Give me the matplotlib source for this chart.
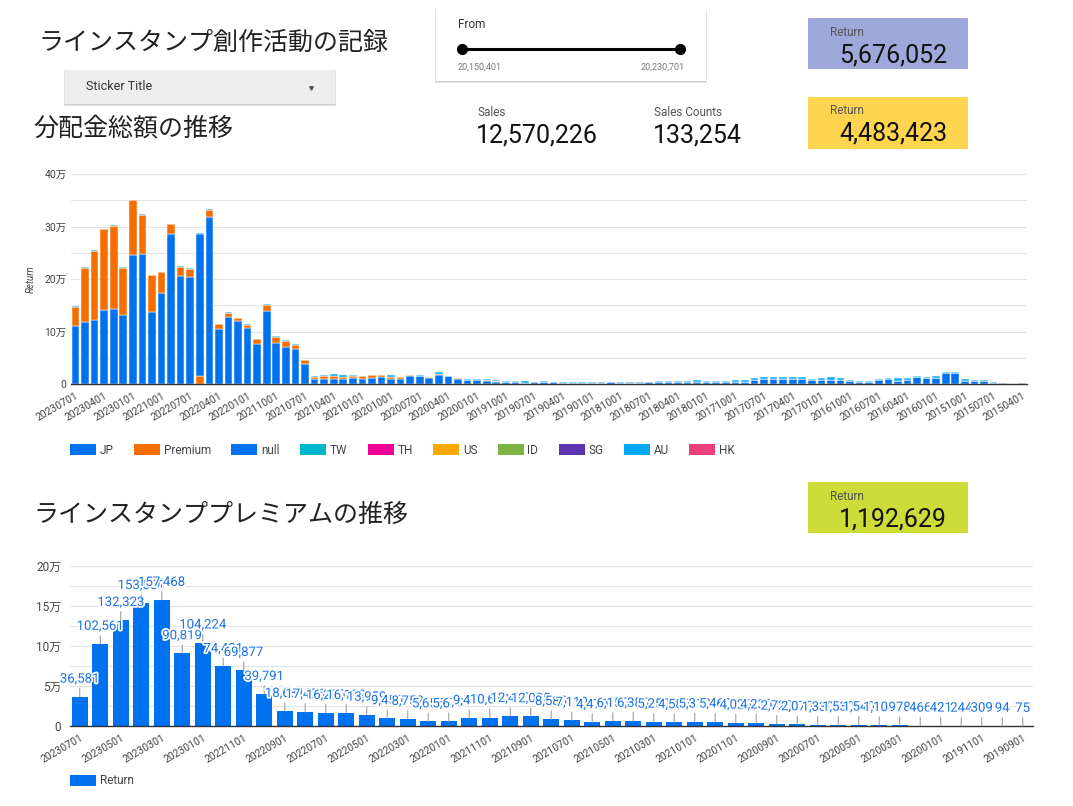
import matplotlib
matplotlib.use("Agg")
import matplotlib.pyplot as plt
import matplotlib.patheffects as pe
from matplotlib.patches import Rectangle, Patch
from matplotlib.lines import Line2D

plt.rcParams['font.family'] = ['Roboto', 'Noto Sans CJK JP', 'DejaVu Sans']

W, H = 1073, 806

# ---------------- data ----------------
# top chart: monthly return by country, in 万 (10,000 yen), newest month first (20230701 ... 20150401)
jp = [11.1, 11.9, 12.1, 14.1, 14.3, 13.1, 24.6, 24.7, 13.7, 17.3,
      28.6, 20.6, 20.3, 0.0, 31.8, 10.4, 12.7, 12.0, 10.7, 7.6,
      14.0, 7.8, 7.0, 6.6, 3.8, 0.9, 0.9, 0.9, 0.9, 1.1,
      0.9, 1.1, 1.3, 1.0, 1.0, 1.45, 1.45, 1.1, 1.75, 1.45,
      1.0, 0.8, 0.8, 0.65, 0.45, 0.45, 0.4, 0.25, 0.3, 0.45,
      0.3, 0.25, 0.25, 0.25, 0.2, 0.2, 0.3, 0.25, 0.25, 0.25,
      0.3, 0.4, 0.4, 0.45, 0.4, 0.45, 0.45, 0.45, 0.45, 0.45,
      0.45, 0.8, 1.0, 1.0, 1.0, 0.9, 0.9, 0.8, 0.8, 0.8,
      0.8, 0.6, 0.45, 0.45, 0.8, 0.9, 0.5, 0.7, 1.25, 1.05,
      1.1, 2.1, 2.1, 0.65, 0.5, 0.5, 0.15, 0.1, 0.03, 0.1]

null_vals = [0.0] * 13 + [27.0] + [0.0] * 86

# small remaining countries on top of each bar
au = [0.1, 0.1, 0.1, 0.05, 0.25, 0.1, 0.05, 0.15, 0.1, 0.1,
      0.1, 0.1, 0.1, 0.1, 0.1, 0.1, 0.1, 0.1, 0.1, 0.1,
      0.15, 0.15, 0.1, 0.1, 0.1, 0.15, 0.2, 0.3, 0.2, 0.25,
      0.15, 0.15, 0.05, 0.3, 0.15, 0.1, 0.05, 0.15, 0.3, 0.05,
      0.1, 0.15, 0.15, 0.2, 0.2, 0.2, 0.2, 0.25, 0.15, 0.15,
      0.15, 0.2, 0.2, 0.15, 0.2, 0.2, 0.15, 0.2, 0.15, 0.15,
      0.15, 0.15, 0.15, 0.2, 0.15, 0.25, 0.2, 0.2, 0.2, 0.25,
      0.25, 0.3, 0.25, 0.4, 0.4, 0.4, 0.35, 0.2, 0.3, 0.45,
      0.4, 0.25, 0.2, 0.2, 0.2, 0.3, 0.55, 0.45, 0.35, 0.35,
      0.4, 0.25, 0.25, 0.35, 0.3, 0.3, 0.25, 0.1, 0.02, 0.05]

top_ticks = ['20230701', '20230401', '20230101', '20221001', '20220701', '20220401',
             '20220101', '20211001', '20210701', '20210401', '20210101', '20201001',
             '20200701', '20200401', '20200101', '20191001', '20190701', '20190401',
             '20190101', '20181001', '20180701', '20180401', '20180101', '20171001',
             '20170701', '20170401', '20170101', '20161001', '20160701', '20160401',
             '20160101', '20151001', '20150701', '20150401']

# bottom chart: premium return (yen), 20230701 ... 20190901
premium = [36581, 102561, 132323, 153556, 157468, 90819, 104224, 74401, 69877, 39791,
           18631, 17436, 16290, 16189, 13959, 9450, 8752, 5655, 5670, 9470,
           10610, 12410, 12085, 8580, 7110, 4470, 6150, 6380, 5250, 4580,
           5310, 5460, 4020, 4230, 2720, 2070, 1330, 1530, 1540, 1104,
           978, 466, 421, 244, 309, 94, 75]

bottom_ticks = ['20230701', '20230501', '20230301', '20230101', '20221101', '20220901',
                '20220701', '20220501', '20220301', '20220101', '20211101', '20210901',
                '20210701', '20210501', '20210301', '20210101', '20201101', '20200901',
                '20200701', '20200501', '20200301', '20200101', '20191101', '20190901']

legend_names = ['JP', 'Premium', 'null', 'TW', 'TH', 'US', 'ID', 'SG', 'AU', 'HK']
legend_colors = ['#0072f0', '#f66d00', '#0072f0', '#00b6cb', '#f10096',
                 '#ffa800', '#7cb342', '#5e35b1', '#03a9f4', '#ec407a']

premium_man = [v / 10000 for v in premium] + [0.0] * (len(jp) - len(premium))


def fx(px):
    return px / W


def fy(py):
    return 1 - py / H


fig = plt.figure(figsize=(W / 100, H / 100), dpi=100)
fig.patch.set_facecolor('white')


def box(x0, y0, x1, y1, color, shadow=False):
    if shadow:
        # soft drop shadow
        fig.add_artist(Rectangle((fx(x0 - 1), fy(y1 + 2)), fx(x1 - x0 + 2), (y1 - y0 + 2) / H,
                                 facecolor='#e2e2e2', edgecolor='none'))
        fig.add_artist(Rectangle((fx(x0), fy(y1 + 1)), fx(x1 - x0), (y1 - y0 + 1) / H,
                                 facecolor='#cfcfcf', edgecolor='none'))
    fig.add_artist(Rectangle((fx(x0), fy(y1)), fx(x1 - x0), (y1 - y0) / H,
                             facecolor=color, edgecolor='none'))


def style_axis(ax, tick_fs, ypad):
    for s in ['top', 'right', 'left']:
        ax.spines[s].set_visible(False)
    ax.spines['bottom'].set_color('#333333')
    ax.spines['bottom'].set_linewidth(1.0)
    ax.tick_params(axis='both', which='both', length=0, colors='#444444')
    ax.tick_params(axis='y', labelsize=tick_fs, pad=ypad)
    ax.grid(axis='y', which='both', color='#e3e3e3', linewidth=0.8)
    ax.set_axisbelow(True)


# ---------------- top chart ----------------
ax1 = fig.add_axes([fx(70.7), fy(384), fx(956.3), 210 / H])
x = list(range(len(jp)))
bottom = [0.0] * len(jp)
for vals, color in [(jp, legend_colors[0]), (premium_man, legend_colors[1]),
                    (null_vals, legend_colors[2]), (au, legend_colors[8])]:
    ax1.bar(x, vals, 0.8, bottom=bottom, color=color, edgecolor='white', linewidth=0.35)
    bottom = [b + v for b, v in zip(bottom, vals)]
ax1.set_xlim(-0.5, len(jp) - 0.5)
ax1.set_ylim(0, 40)
ax1.set_yticks([0, 10, 20, 30, 40])
ax1.set_yticklabels(['0'] + [f'{v}万' for v in [10, 20, 30, 40]])
ax1.set_yticks([5, 15, 25, 35], minor=True)
ax1.set_xticks(range(0, len(jp), 3))
ax1.set_xticklabels(top_ticks, rotation=30, ha='right', rotation_mode='anchor', fontsize=7.5)
style_axis(ax1, 7.5, 3)
ax1.tick_params(axis='x', pad=5)
ax1.set_ylabel('Return', fontsize=7, style='italic', color='#444444')
ax1.yaxis.set_label_coords(-(70.7 - 36) / 956.3, 0.5)

handles = [Patch(facecolor=c, edgecolor='none') for c in legend_colors]
fig.legend(handles, legend_names, loc='center left', bbox_to_anchor=(fx(70), fy(450)),
           ncol=10, frameon=False, fontsize=8.5, handlelength=2.2, handleheight=0.95,
           handletextpad=0.3, columnspacing=1.75, borderpad=0, borderaxespad=0,
           labelcolor='#444444')

# ---------------- bottom chart ----------------
ax2 = fig.add_axes([fx(69.5), fy(726), fx(963.5), 160 / H])
xb = list(range(len(premium)))
prem_man = [v / 10000 for v in premium]
ax2.bar(xb, prem_man, 0.78, color='#0072f0', edgecolor='none')
ax2.set_xlim(-0.5, len(premium) - 0.5)
ax2.set_ylim(0, 20)
ax2.set_yticks([0, 5, 10, 15, 20])
ax2.set_yticklabels(['0'] + [f'{v}万' for v in [5, 10, 15, 20]])
ax2.set_yticks([2.5, 7.5, 12.5, 17.5], minor=True)
ax2.set_xticks(range(0, len(premium), 2))
ax2.set_xticklabels(bottom_ticks, rotation=30, ha='right', rotation_mode='anchor', fontsize=7.5)
style_axis(ax2, 8.5, 6)
ax2.tick_params(axis='x', pad=5)

for i, (v, raw) in enumerate(zip(prem_man, premium)):
    ax2.annotate(f'{raw:,}', xy=(i, v), xytext=(0, 8), textcoords='offset points',
                 ha='center', va='bottom', fontsize=9.5, color='#1a73e8',
                 arrowprops=dict(arrowstyle='-', color='#a0a0a0', lw=0.8,
                                 shrinkA=0, shrinkB=0),
                 path_effects=[pe.withStroke(linewidth=2.5, foreground='white')],
                 annotation_clip=False)

fig.legend([Patch(facecolor='#0072f0', edgecolor='none')], ['Return'], loc='center left',
           bbox_to_anchor=(fx(70), fy(781)), frameon=False, fontsize=8.5,
           handlelength=2.2, handleheight=0.95, handletextpad=0.3,
           borderpad=0, borderaxespad=0, labelcolor='#444444')

# ---------------- titles ----------------
jp_font = ['Noto Sans CJK JP', 'DejaVu Sans']
fig.text(fx(38), fy(43), 'ラインスタンプ創作活動の記録', fontsize=18, va='center',
         family=jp_font, color='#222222')
fig.text(fx(33), fy(129), '分配金総額の推移', fontsize=18, va='center',
         family=jp_font, color='#222222')
fig.text(fx(33), fy(515), 'ラインスタンププレミアムの推移', fontsize=18, va='center',
         family=jp_font, color='#222222')

# ---------------- controls ----------------
box(65, 70, 335, 104, '#eeeeee', shadow=True)
fig.text(fx(86), fy(87), 'Sticker Title', fontsize=9, va='center', color='#333333')
fig.add_artist(Line2D([fx(311)], [fy(87.5)], marker='v', markersize=2.5,
                      color='#555555', linestyle='none'))

box(436, 10, 706, 81, 'white', shadow=True)
fig.text(fx(458), fy(25), 'From', fontsize=8.5, va='center', color='#333333')
fig.add_artist(Line2D([fx(462), fx(680)], [fy(49), fy(49)], color='black', lw=2.2,
                      marker='o', markersize=7))
fig.text(fx(458), fy(67), '20,150,401', fontsize=6.5, va='center', color='#777777')
fig.text(fx(685), fy(67), '20,230,701', fontsize=6.5, va='center', ha='right', color='#777777')

# ---------------- scorecards ----------------
cards = [(18, 69, '#9fa8da', '5,676,052'),
         (97, 149, '#ffd54f', '4,483,423'),
         (482, 533, '#cddc39', '1,192,629')]
for y0, y1, c, val in cards:
    box(808, y0, 968, y1, c)
    fig.text(fx(830), fy(y0 + 14), 'Return', fontsize=8.5, va='center', color='#555555')
    fig.text(fx(839), fy(y0 + 37), val, fontsize=18, va='center', color='#111111')

fig.text(fx(477), fy(112), 'Sales', fontsize=8.5, va='center', color='#555555')
fig.text(fx(476), fy(135), '12,570,226', fontsize=18, va='center', color='#111111')
fig.text(fx(654), fy(112), 'Sales Counts', fontsize=8.5, va='center', color='#555555')
fig.text(fx(653), fy(135), '133,254', fontsize=18, va='center', color='#111111')

fig.savefig('out.png', dpi=100)
